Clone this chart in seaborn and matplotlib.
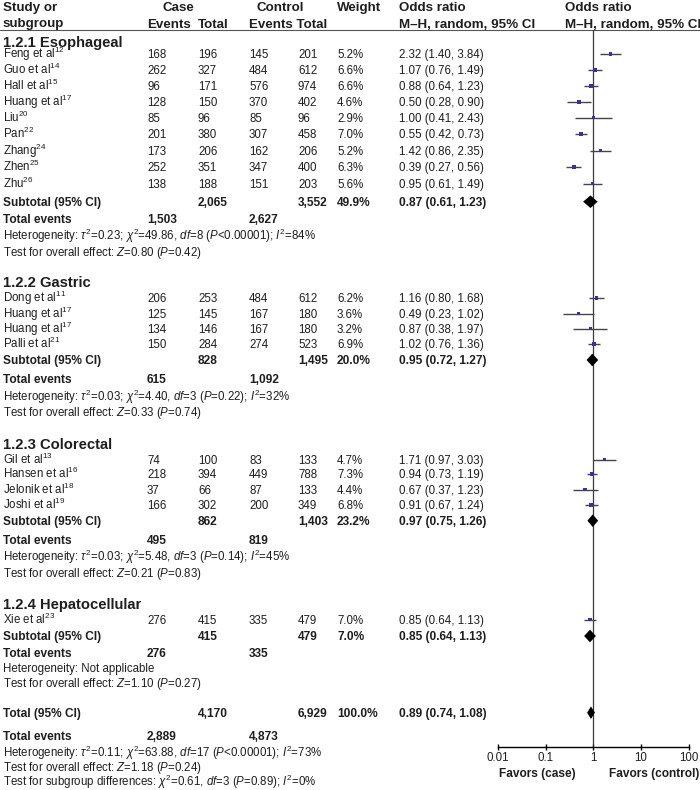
import numpy as np
import pandas as pd
import matplotlib
matplotlib.use("Agg")
import matplotlib.pyplot as plt
import seaborn as sns

# ---------------- data ----------------
groups = ["1.2.1 Esophageal", "1.2.2 Gastric", "1.2.3 Colorectal", "1.2.4 Hepatocellular"]
study_group = [0, 0, 0, 0, 0, 0, 0, 0, 0, 1, 1, 1, 1, 2, 2, 2, 2, 3]
study_names = ["Feng et al", "Guo et al", "Hall et al", "Huang et al", "Liu", "Pan", "Zhang", "Zhen", "Zhu",
               "Dong et al", "Huang et al", "Huang et al", "Palli et al",
               "Gil et al", "Hansen et al", "Jelonik et al", "Joshi et al",
               "Xie et al"]
study_refs = ["12", "14", "15", "17", "20", "22", "24", "25", "26",
              "11", "17", "17", "21", "13", "16", "18", "19", "23"]
case_events = [168, 262, 96, 128, 85, 201, 173, 252, 138, 206, 125, 134, 150, 74, 218, 37, 166, 276]
case_totals = [196, 327, 171, 150, 96, 380, 206, 351, 188, 253, 145, 146, 284, 100, 394, 66, 302, 415]
ctrl_events = [145, 484, 576, 370, 85, 307, 162, 347, 151, 484, 167, 167, 274, 83, 449, 87, 200, 335]
ctrl_totals = [201, 612, 974, 402, 96, 458, 206, 400, 203, 612, 180, 180, 523, 133, 788, 133, 349, 479]
weights = [5.2, 6.6, 6.6, 4.6, 2.9, 7.0, 5.2, 6.3, 5.6, 6.2, 3.6, 3.2, 6.9, 4.7, 7.3, 4.4, 6.8, 7.0]
odds = [2.32, 1.07, 0.88, 0.50, 1.00, 0.55, 1.42, 0.39, 0.95, 1.16, 0.49, 0.87, 1.02, 1.71, 0.94, 0.67, 0.91, 0.85]
ci_low = [1.40, 0.76, 0.64, 0.28, 0.41, 0.42, 0.86, 0.27, 0.61, 0.80, 0.23, 0.38, 0.76, 0.97, 0.73, 0.37, 0.67, 0.64]
ci_high = [3.84, 1.49, 1.23, 0.90, 2.43, 0.73, 2.35, 0.56, 1.49, 1.68, 1.02, 1.97, 1.36, 3.03, 1.19, 1.23, 1.24, 1.13]

sub_case_tot = [2065, 828, 862, 415]
sub_ctrl_tot = [3552, 1495, 1403, 479]
sub_case_ev = [1503, 615, 495, 276]
sub_ctrl_ev = [2627, 1092, 819, 335]
sub_weight = [49.9, 20.0, 23.2, 7.0]
sub_or = [0.87, 0.95, 0.97, 0.85]
sub_lo = [0.61, 0.72, 0.75, 0.64]
sub_hi = [1.23, 1.27, 1.26, 1.13]
sub_tau2 = ["0.23", "0.03", "0.03", None]
sub_chi2 = ["49.86", "4.40", "5.48", None]
sub_df = ["8", "3", "3", None]
sub_p = ["<0.00001", "=0.22", "=0.14", None]
sub_i2 = ["84", "32", "45", None]
sub_z = ["0.80", "0.33", "0.21", "1.10"]
sub_zp = ["0.42", "0.74", "0.83", "0.27"]

tot_case_tot, tot_ctrl_tot = 4170, 6929
tot_case_ev, tot_ctrl_ev = 2889, 4873
tot_weight = 100.0
tot_or, tot_lo, tot_hi = 0.89, 0.74, 1.08
tot_tau2, tot_chi2, tot_df, tot_p, tot_i2 = "0.11", "63.88", "17", "<0.00001", "73"
tot_z, tot_zp = "1.18", "0.24"
sg_chi2, sg_df, sg_p, sg_i2 = "0.61", "3", "=0.89", "0"

x_ticks = [0.01, 0.1, 1, 10, 100]
x_ticklabels = ["0.01", "0.1", "1", "10", "100"]

# ---------------- layout (pixel rows) ----------------
W, H = 700, 790
y_group = [41.7, 281.7, 444, 604]
y_study = [53.8, 69.8, 85.8, 101.9, 117.7, 134.2, 150.6, 167, 183.5,
           298.2, 313.5, 328.7, 344.2, 459.5, 474.2, 489.7, 505.2, 619.5]
y_sub = [201.7, 360, 520.7, 636]
y_te = [219, 378.3, 539.3, 652.7]
y_het = [236, 396.7, 557.3, 668.3]
y_test = [251.7, 411.7, 572.7, 683.3]
y_tot, y_tot_te, y_tot_het, y_tot_test, y_sg = 712.7, 736, 752.7, 767.3, 781.8
y_axis_px, y_top_px = 746.7, 30.0
x_forest_l, x_forest_r = 498.0, 688.7
X_NAME, X_CEV, X_CTOT, X_KEV, X_KTOT, X_W, X_OR = 3, 147, 198, 249, 298, 337, 399

sns.set_theme(style="white")
plt.rcParams["font.family"] = ["Liberation Sans", "DejaVu Sans"]
plt.rcParams["mathtext.fontset"] = "custom"
plt.rcParams["mathtext.rm"] = "Liberation Sans"
plt.rcParams["mathtext.it"] = "Liberation Sans:italic"
plt.rcParams["mathtext.bf"] = "Liberation Sans:bold"
plt.rcParams["mathtext.sf"] = "Liberation Sans"

TXT = "#1e1e1e"
fig = plt.figure(figsize=(W / 100, H / 100), dpi=100)
fig.patch.set_facecolor("white")

tax = fig.add_axes([0, 0, 1, 1])
tax.set_xlim(0, W)
tax.set_ylim(H, 0)
tax.axis("off")

BODY = 8.3


def txt(x, yc, s, size=BODY, weight="normal", ha="left"):
    off = 0.36 * size * 100 / 72
    tax.text(x, yc + off, s, fontsize=size, fontweight=weight, ha=ha, va="baseline", color=TXT)


def het_str(tau2, chi2, df, p, i2):
    return (r"Heterogeneity: $\tau^2$=" + tau2 + r"; $\chi^2$=" + chi2 + r", $\mathit{df}$=" + df
            + r" ($\mathit{P}$" + p + r"); $\mathit{I}^2$=" + i2 + "%")


def fmt_or(o, l, h):
    return f"{o:.2f} ({l:.2f}, {h:.2f})"


# header
HS = 9.6
txt(X_NAME, 6, "Study or", HS, "bold")
txt(X_NAME, 22.7, "subgroup", HS, "bold")
txt(178.5, 6, "Case", HS, "bold", ha="center")
txt(X_CEV, 22.7, "Events", HS, "bold")
txt(X_CTOT, 22.7, "Total", HS, "bold")
txt(280.5, 6, "Control", HS, "bold", ha="center")
txt(X_KEV, 22.7, "Events Total", HS, "bold")
txt(X_W, 6, "Weight", HS, "bold")
txt(X_OR, 6, "Odds ratio", HS, "bold")
txt(X_OR, 22.7, "M\u2013H, random, 95% CI", HS, "bold")
txt(565, 6, "Odds ratio", HS, "bold")
txt(565, 22.7, "M\u2013H, random, 95% CI", HS, "bold")
tax.plot([0, W], [y_top_px, y_top_px], color="#555555", lw=0.8)

# studies
for i in range(len(study_names)):
    y = y_study[i]
    txt(X_NAME, y, study_names[i] + r"$^{" + study_refs[i] + "}$")
    txt(X_CEV, y, f"{case_events[i]}")
    txt(X_CTOT, y, f"{case_totals[i]}")
    txt(X_KEV, y, f"{ctrl_events[i]}")
    txt(X_KTOT, y, f"{ctrl_totals[i]}")
    txt(X_W, y, f"{weights[i]:.1f}%")
    txt(X_OR, y, fmt_or(odds[i], ci_low[i], ci_high[i]))

# subgroups
for g in range(len(groups)):
    txt(X_NAME, y_group[g], groups[g], 10.6, "bold")
    txt(X_NAME, y_sub[g], "Subtotal (95% CI)", 8.6, "bold")
    txt(X_CTOT, y_sub[g], f"{sub_case_tot[g]:,}", 8.6, "bold")
    txt(X_KTOT, y_sub[g], f"{sub_ctrl_tot[g]:,}", 8.6, "bold")
    txt(X_W, y_sub[g], f"{sub_weight[g]:.1f}%", 8.6, "bold")
    txt(X_OR, y_sub[g], fmt_or(sub_or[g], sub_lo[g], sub_hi[g]), 8.6, "bold")
    txt(X_NAME, y_te[g], "Total events", 8.6, "bold")
    txt(X_CEV, y_te[g], f"{sub_case_ev[g]:,}", 8.6, "bold")
    txt(X_KEV, y_te[g], f"{sub_ctrl_ev[g]:,}", 8.6, "bold")
    if sub_tau2[g] is None:
        txt(X_NAME, y_het[g], "Heterogeneity: Not applicable")
    else:
        txt(X_NAME, y_het[g], het_str(sub_tau2[g], sub_chi2[g], sub_df[g], sub_p[g], sub_i2[g]))
    txt(X_NAME, y_test[g], r"Test for overall effect: $\mathit{Z}$=" + sub_z[g] + r" ($\mathit{P}$=" + sub_zp[g] + ")")

# overall
txt(X_NAME, y_tot, "Total (95% CI)", 8.6, "bold")
txt(X_CTOT, y_tot, f"{tot_case_tot:,}", 8.6, "bold")
txt(X_KTOT, y_tot, f"{tot_ctrl_tot:,}", 8.6, "bold")
txt(X_W, y_tot, f"{tot_weight:.1f}%", 8.6, "bold")
txt(X_OR, y_tot, fmt_or(tot_or, tot_lo, tot_hi), 8.6, "bold")
txt(X_NAME, y_tot_te, "Total events", 8.6, "bold")
txt(X_CEV, y_tot_te, f"{tot_case_ev:,}", 8.6, "bold")
txt(X_KEV, y_tot_te, f"{tot_ctrl_ev:,}", 8.6, "bold")
txt(X_NAME, y_tot_het, het_str(tot_tau2, tot_chi2, tot_df, tot_p, tot_i2))
txt(X_NAME, y_tot_test, r"Test for overall effect: $\mathit{Z}$=" + tot_z + r" ($\mathit{P}$=" + tot_zp + ")")
txt(X_NAME, y_sg, r"Test for subgroup differences: $\chi^2$=" + sg_chi2 + r", $\mathit{df}$=" + sg_df
    + r" ($\mathit{P}$" + sg_p + r"); $\mathit{I}^2$=" + sg_i2 + "%")

# ---------------- forest panel ----------------
fax = fig.add_axes([x_forest_l / W, (H - y_axis_px) / H,
                    (x_forest_r - x_forest_l) / W, (y_axis_px - y_top_px) / H])
fax.set_xscale("log")
fax.set_xlim(x_ticks[0], x_ticks[-1])
fax.set_ylim(y_axis_px, y_top_px)
fax.patch.set_alpha(0)
fax.axvline(1, color="#3a3a3a", lw=0.9, zorder=1)

df_st = pd.DataFrame({"odds": odds, "lo": ci_low, "hi": ci_high, "y": y_study, "w": weights})
fax.hlines(df_st["y"], df_st["lo"], df_st["hi"], color="#454545", lw=1.0, zorder=2)
sns.scatterplot(data=df_st, x="odds", y="y", size="w", sizes=(4, 8), marker="s",
                color="#34349a", linewidth=0, legend=False, ax=fax, zorder=3)

DH = 6.3
for g in range(len(groups)):
    y = y_sub[g]
    fax.fill([sub_lo[g], sub_or[g], sub_hi[g], sub_or[g]], [y, y - DH, y, y + DH],
             color="black", lw=0, zorder=4)
fax.fill([tot_lo, tot_or, tot_hi, tot_or], [y_tot, y_tot - DH, y_tot, y_tot + DH],
         color="black", lw=0, zorder=4)

fax.set_xticks(x_ticks)
fax.set_xticklabels(x_ticklabels)
fax.minorticks_off()
fax.set_yticks([])
fax.set_xlabel("")
fax.set_ylabel("")
for s in ["left", "right", "top"]:
    fax.spines[s].set_visible(False)
fax.spines["bottom"].set_color("black")
fax.spines["bottom"].set_linewidth(1.0)
fax.tick_params(axis="x", direction="inout", length=5, width=1.0, pad=1.5,
                labelsize=BODY, colors="black", labelcolor=TXT, bottom=True)

txt(537, 773, "Favors (case)", 8.6, "bold", ha="center")
txt(654, 773, "Favors (control)", 8.6, "bold", ha="center")

fig.savefig("out.png", dpi=100)
